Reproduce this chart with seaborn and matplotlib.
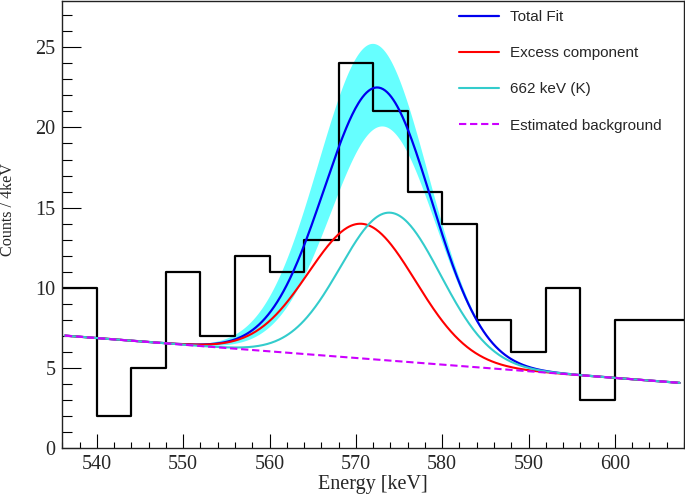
import numpy as np
import pandas as pd
import matplotlib
matplotlib.use("Agg")
import matplotlib.pyplot as plt
from matplotlib.ticker import MultipleLocator
import seaborn as sns

# ---- data ----
bin_edges = [536, 540, 544, 548, 552, 556, 560, 564, 568, 572, 576, 580,
             584, 588, 592, 596, 600, 604, 608]
counts = [10, 2, 5, 11, 7, 12, 11, 13, 24, 21, 16, 14, 8, 6, 10, 3, 8, 8]

# linear background: end points (keV, counts)
bg_x = [536.3, 607.5]
bg_y = [7.0, 4.05]

# Gaussian fit components: [centre keV, sigma keV, height above background]
excess_params = [570.7, 6.2, 8.41]
k662_params = [574.0, 5.8, 9.24]
# error band of total fit (excess component varied)
band_upper_excess = [570.2, 6.2, 11.5]
band_lower_excess = [571.4, 6.2, 5.7]

fit_range = [536.3, 607.5]

legend_labels = ["Total Fit", "Excess component", "662 keV (K)", "Estimated background"]

# ---- build curves ----
xf = np.linspace(fit_range[0], fit_range[1], 600)
bg = np.interp(xf, bg_x, bg_y)


def gauss(x, p):
    return p[2] * np.exp(-0.5 * ((x - p[0]) / p[1]) ** 2)


g_exc = gauss(xf, excess_params)
g_k = gauss(xf, k662_params)
total = bg + g_exc + g_k
band_hi = bg + gauss(xf, band_upper_excess) + g_k
band_lo = bg + gauss(xf, band_lower_excess) + g_k

centers = [(a + b) / 2 for a, b in zip(bin_edges[:-1], bin_edges[1:])]
df_hist = pd.DataFrame({"energy": centers, "counts": counts})

sns.set_style("ticks")
plt.rcParams["font.family"] = ["Liberation Serif", "DejaVu Serif"]

fig = plt.figure(figsize=(6.85, 4.97), dpi=100)
ax = fig.add_axes([0.091, 0.0992, 0.9075, 0.8988])

ax.fill_between(xf, band_lo, band_hi, color="#66ffff", lw=0, zorder=1)
sns.histplot(data=df_hist, x="energy", weights="counts", bins=bin_edges,
             element="step", fill=False, color="black", lw=1.6, ax=ax, zorder=2)
sns.lineplot(x=xf, y=total, color="#0000ee", lw=1.6, ax=ax, zorder=3,
             label=legend_labels[0])
sns.lineplot(x=xf, y=bg + g_exc, color="#ff0000", lw=1.5, ax=ax, zorder=4,
             label=legend_labels[1])
sns.lineplot(x=xf, y=bg + g_k, color="#33cccc", lw=1.5, ax=ax, zorder=5,
             label=legend_labels[2])
sns.lineplot(x=bg_x, y=bg_y, color="#cc00ff", lw=1.5, ax=ax, zorder=6,
             linestyle=(0, (3.5, 1.8)), label=legend_labels[3])

ax.set_xlim(536, 608)
ax.set_ylim(0, 27.9)
ax.xaxis.set_major_locator(MultipleLocator(10))
ax.xaxis.set_minor_locator(MultipleLocator(2))
ax.yaxis.set_major_locator(MultipleLocator(5))
ax.yaxis.set_minor_locator(MultipleLocator(1))
ax.tick_params(axis="both", which="both", direction="in", top=False, right=False,
               width=0.8, color="black", labelsize=14.5)
ax.tick_params(axis="x", which="major", length=10, pad=5)
ax.tick_params(axis="x", which="minor", length=4.3)
ax.tick_params(axis="y", which="major", length=13.7, pad=5)
ax.tick_params(axis="y", which="minor", length=7.2)
for s in ax.spines.values():
    s.set_linewidth(1.0)
    s.set_color("#222222")

ax.set_xlabel("Energy [keV]", fontsize=14.5)
ax.set_ylabel("Counts / 4keV", fontsize=11.6)
ax.xaxis.set_label_coords(0.5, -0.062)
ax.yaxis.set_label_coords(-0.0745, 0.532)

leg = ax.legend(loc="upper left", bbox_to_anchor=(0.623, 1.0), frameon=False,
                prop={"family": "Liberation Sans", "size": 11},
                handlelength=2.6, handletextpad=0.75, labelspacing=1.45,
                borderaxespad=0.2)

fig.savefig("out.png", dpi=100)
